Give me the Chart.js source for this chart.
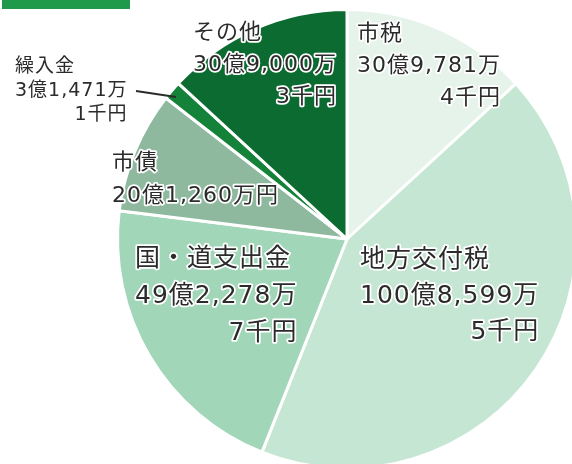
<!DOCTYPE html>
<html>
<head>
<meta charset="utf-8">
<script src="https://cdn.jsdelivr.net/npm/chart.js@4"></script>
<style>
    html, body { margin: 0; padding: 0; background: #fff; overflow: hidden; }
    #wrap { position: absolute; left: 0; top: 0; width: 590px; height: 490px; }
</style>
</head>
<body>
<div id="wrap"><canvas id="graph" width="590" height="490"></canvas></div>
<script>
// 歳入の内訳 (億円)
const CATEGORY = ["市税", "地方交付税", "国・道支出金", "市債", "繰入金", "その他"];
const AMOUNT = [30.97814, 100.85995, 49.22787, 20.1260, 3.14711, 30.90003];
const COLORS = ["#e5f3ea", "#c4e6d2", "#a2d6b8", "#8eb99f", "#148239", "#0c6b30"];
const LABEL_LINES = [
    ["市税", "30億9,781万", "4千円"],
    ["地方交付税", "100億8,599万", "5千円"],
    ["国・道支出金", "49億2,278万", "7千円"],
    ["市債", "20億1,260万円"],
    ["繰入金", "3億1,471万", "1千円"],
    ["その他", "30億9,000万", "3千円"],
];

// label placement: x, y (middle of first line), font size, line height
const LABEL_POS = [
    { x: 357, y: 34, size: 22, lh: 32 },
    { x: 360, y: 260, size: 25, lh: 36 },
    { x: 135, y: 259, size: 25, lh: 37 },
    { x: 112, y: 163, size: 22, lh: 33 },
    { x: 15, y: 67, size: 19, lh: 24 },
    { x: 193, y: 33, size: 22, lh: 32 },
];

const ctx = document.getElementById("graph");

const labelPlugin = {
    id: "labels",
    beforeDraw(chart) {
        const c = chart.ctx;
        c.save();
        c.fillStyle = "#1f9a4a";
        c.fillRect(2, 0, 128, 9);
        c.restore();
    },
    afterDraw(chart) {
        const c = chart.ctx;
        c.save();
        c.textBaseline = "middle";
        c.lineJoin = "round";
        // leader line for 繰入金
        c.strokeStyle = "#2b2b2b";
        c.lineWidth = 2;
        c.beginPath();
        c.moveTo(136, 91);
        c.lineTo(176, 97);
        c.stroke();

        LABEL_LINES.forEach((lines, i) => {
            const p = LABEL_POS[i];
            c.font = `${p.size}px "DejaVu Sans", "Noto Sans CJK JP", sans-serif`;
            c.letterSpacing = "1px";
            const w2 = lines.length > 1 ? c.measureText(lines[1]).width : 0;
            lines.forEach((t, j) => {
                let x = p.x;
                if (j === 2) {
                    c.textAlign = "right";
                    x = p.x + w2;
                } else {
                    c.textAlign = "left";
                }
                const y = p.y + j * p.lh;
                c.strokeStyle = "#ffffff";
                c.lineWidth = 3.5;
                c.strokeText(t, x, y);
                c.fillStyle = "#2b2b2b";
                c.fillText(t, x, y);
            });
        });
        c.restore();
    },
};

new Chart(ctx, {
    type: "pie",
    data: {
        labels: CATEGORY,
        datasets: [
            {
                data: AMOUNT,
                backgroundColor: COLORS,
                borderColor: "#ffffff",
                borderWidth: 3,
            },
        ],
    },
    options: {
        responsive: false,
        animation: false,
        layout: {
            padding: { left: 116, right: 12, top: 8, bottom: 20 },
        },
        plugins: {
            legend: { display: false },
            tooltip: { enabled: false },
        },
    },
    plugins: [labelPlugin],
});
</script>
</body>
</html>
